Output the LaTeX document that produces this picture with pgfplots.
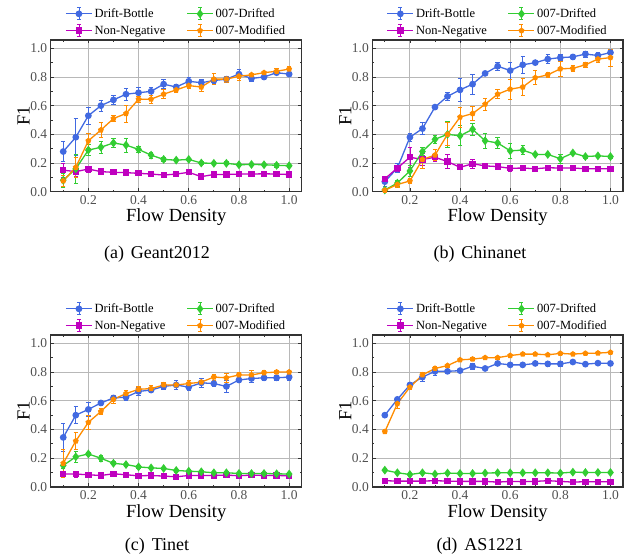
\documentclass[border=0pt]{standalone}
\usepackage{fontspec}
\setmainfont{Liberation Serif}
\usepackage{pgfplots}
\pgfplotsset{compat=1.18}
\definecolor{cblue}{HTML}{4169E1}
\definecolor{cgreen}{HTML}{32CD32}
\definecolor{cmag}{HTML}{BF00BF}
\definecolor{corange}{HTML}{FF8C00}
\definecolor{tickgray}{HTML}{505050}
\pgfplotsset{
  panel/.style={
    scale only axis, width=251pt, height=151.7pt, anchor=south west,
    xmin=0.05, xmax=1.05, ymin=0, ymax=1.058,
    xtick={0.2,0.4,0.6,0.8,1.0}, ytick={0,0.2,0.4,0.6,0.8,1.0},
    minor xtick={0.1,0.3,0.5,0.7,0.9}, minor ytick={0.1,0.3,0.5,0.7,0.9},
    xticklabels={0.2,0.4,0.6,0.8,1.0}, yticklabels={0.0,0.2,0.4,0.6,0.8,1.0},
    tick align=inside, major tick length=3.5pt, minor tick length=2pt,
    every tick/.style={black!80, line width=0.8pt},
    xmajorgrids, ymajorgrids, major grid style={color=black!28, line width=0.9pt},
    axis line style={black!80, line width=1.1pt},
    tick label style={font=\fontsize{13.5}{15}\selectfont, text=tickgray},
    /pgf/number format/assume math mode=true,
    xlabel={Flow Density}, ylabel={F1},
    label style={font=\fontsize{18.5}{20}\selectfont},
    xlabel style={at={(axis description cs:0.5,-0.17)}, anchor=center},
    ylabel style={at={(axis description cs:-0.108,0.5)}, anchor=center},
    legend style={draw=none, fill=none, at={(0.5,1)}, anchor=south, yshift=0pt,
      font=\fontsize{12.5}{14}\selectfont, row sep=2.5pt,
      /tikz/every even column/.append style={column sep=19pt}},
    legend columns=2, transpose legend, legend cell align=left,
    legend image code/.code={
      \draw[mark=none, solid, line width=0.8pt] (13pt,-6pt) -- (13pt,6pt) (11pt,-6pt) -- (15pt,-6pt) (11pt,6pt) -- (15pt,6pt);
      \draw[mark repeat=2,mark phase=2] plot coordinates {(0pt,0pt) (13pt,0pt) (26pt,0pt)};
    },
    every axis plot/.append style={line width=1.3pt},
    error bars/y dir=both, error bars/y explicit,
    error bars/error bar style={line width=0.8pt},
    error bars/error mark options={rotate=90, mark size=2.2pt, line width=0.8pt},
  },
  sblue/.style={color=cblue, mark=*, mark size=2.7pt, mark options={solid}},
  smag/.style={color=cmag, mark=square*, mark size=2.5pt, mark options={solid}},
  sgreen/.style={color=cgreen, mark=diamond*, mark size=3.4pt, mark options={solid}},
  sorange/.style={color=corange, mark=pentagon*, mark size=2.3pt, mark options={solid}},
}
\begin{document}
\begin{tikzpicture}
\useasboundingbox (0pt,0pt) rectangle (638pt,556pt);
% ---------------- (a) Geant2012
\begin{axis}[panel, at={(50.7pt,364.3pt)}]
\addplot[sblue] coordinates {(0.10,0.28) +- (0,0.07) (0.15,0.38) +- (0,0.13) (0.20,0.53) +- (0,0.06) (0.25,0.60) +- (0,0.04) (0.30,0.64) +- (0,0.03) (0.35,0.68) +- (0,0.04) (0.40,0.69) +- (0,0.04) (0.45,0.70) +- (0,0.03) (0.50,0.75) +- (0,0.03) (0.55,0.73) +- (0,0.02) (0.60,0.77) +- (0,0.03) (0.65,0.76) +- (0,0.02) (0.70,0.775) +- (0,0.02) (0.75,0.785) +- (0,0.02) (0.80,0.82) +- (0,0.03) (0.85,0.79) +- (0,0.02) (0.90,0.80) +- (0,0.015) (0.95,0.83) +- (0,0.015) (1.00,0.82) +- (0,0.01)};
\addlegendentry{Drift-Bottle}
\addplot[smag] coordinates {(0.10,0.15) +- (0,0.05) (0.15,0.14) +- (0,0.03) (0.20,0.158) +- (0,0.02) (0.25,0.14) +- (0,0.02) (0.30,0.135) +- (0,0.01) (0.35,0.133) +- (0,0.02) (0.40,0.128) +- (0,0.01) (0.45,0.123) +- (0,0.01) (0.50,0.116) +- (0,0.01) (0.55,0.123) +- (0,0.01) (0.60,0.135) +- (0,0.01) (0.65,0.105) +- (0,0.01) (0.70,0.12) +- (0,0.01) (0.75,0.12) +- (0,0.01) (0.80,0.123) +- (0,0.01) (0.85,0.123) +- (0,0.01) (0.90,0.125) +- (0,0.01) (0.95,0.123) +- (0,0.01) (1.00,0.12) +- (0,0.01)};
\addlegendentry{Non-Negative}
\addplot[sgreen] coordinates {(0.10,0.08) +- (0,0.05) (0.15,0.16) +- (0,0.10) (0.20,0.29) +- (0,0.04) (0.25,0.31) +- (0,0.04) (0.30,0.34) +- (0,0.03) (0.35,0.325) +- (0,0.05) (0.40,0.295) +- (0,0.02) (0.45,0.255) +- (0,0.02) (0.50,0.225) +- (0,0.015) (0.55,0.22) +- (0,0.01) (0.60,0.225) +- (0,0.01) (0.65,0.20) +- (0,0.01) (0.70,0.198) +- (0,0.01) (0.75,0.198) +- (0,0.01) (0.80,0.188) +- (0,0.01) (0.85,0.19) +- (0,0.01) (0.90,0.188) +- (0,0.01) (0.95,0.184) +- (0,0.015) (1.00,0.181) +- (0,0.01)};
\addlegendentry{007-Drifted}
\addplot[sorange] coordinates {(0.10,0.075) +- (0,0.04) (0.15,0.17) +- (0,0.07) (0.20,0.355) +- (0,0.05) (0.25,0.43) +- (0,0.05) (0.30,0.51) +- (0,0.02) (0.35,0.545) +- (0,0.06) (0.40,0.645) +- (0,0.02) (0.45,0.645) +- (0,0.03) (0.50,0.68) +- (0,0.03) (0.55,0.71) +- (0,0.02) (0.60,0.74) +- (0,0.02) (0.65,0.73) +- (0,0.03) (0.70,0.785) +- (0,0.04) (0.75,0.785) +- (0,0.02) (0.80,0.805) +- (0,0.03) (0.85,0.815) +- (0,0.01) (0.90,0.83) +- (0,0.01) (0.95,0.84) +- (0,0.02) (1.00,0.855) +- (0,0.02)};
\addlegendentry{007-Modified}
\end{axis}
% ---------------- (b) Chinanet
\begin{axis}[panel, at={(372.3pt,364.3pt)}, width=250.7pt]
\addplot[sblue] coordinates {(0.10,0.07) +- (0,0.03) (0.15,0.165) +- (0,0.03) (0.20,0.38) +- (0,0.03) (0.25,0.44) +- (0,0.04) (0.30,0.59) +- (0,0.01) (0.35,0.665) +- (0,0.03) (0.40,0.71) +- (0,0.08) (0.45,0.75) +- (0,0.07) (0.50,0.825) +- (0,0.015) (0.55,0.875) +- (0,0.03) (0.60,0.845) +- (0,0.06) (0.65,0.885) +- (0,0.06) (0.70,0.90) +- (0,0.01) (0.75,0.925) +- (0,0.03) (0.80,0.935) +- (0,0.02) (0.85,0.94) +- (0,0.02) (0.90,0.96) +- (0,0.02) (0.95,0.95) +- (0,0.02) (1.00,0.97) +- (0,0.01)};
\addlegendentry{Drift-Bottle}
\addplot[smag] coordinates {(0.10,0.09) +- (0,0.02) (0.15,0.165) +- (0,0.02) (0.20,0.24) +- (0,0.07) (0.25,0.225) +- (0,0.04) (0.30,0.24) +- (0,0.03) (0.35,0.21) +- (0,0.05) (0.40,0.17) +- (0,0.01) (0.45,0.195) +- (0,0.03) (0.50,0.18) +- (0,0.02) (0.55,0.175) +- (0,0.01) (0.60,0.163) +- (0,0.02) (0.65,0.165) +- (0,0.01) (0.70,0.16) +- (0,0.01) (0.75,0.167) +- (0,0.01) (0.80,0.165) +- (0,0.01) (0.85,0.165) +- (0,0.01) (0.90,0.16) +- (0,0.01) (0.95,0.16) +- (0,0.01) (1.00,0.16) +- (0,0.01)};
\addlegendentry{Non-Negative}
\addplot[sgreen] coordinates {(0.10,0.012) +- (0,0.01) (0.15,0.06) +- (0,0.02) (0.20,0.145) +- (0,0.04) (0.25,0.28) +- (0,0.03) (0.30,0.365) +- (0,0.03) (0.35,0.40) +- (0,0.09) (0.40,0.39) +- (0,0.07) (0.45,0.435) +- (0,0.04) (0.50,0.355) +- (0,0.05) (0.55,0.34) +- (0,0.04) (0.60,0.285) +- (0,0.05) (0.65,0.29) +- (0,0.03) (0.70,0.26) +- (0,0.01) (0.75,0.26) +- (0,0.01) (0.80,0.23) +- (0,0.03) (0.85,0.27) +- (0,0.01) (0.90,0.245) +- (0,0.01) (0.95,0.25) +- (0,0.01) (1.00,0.245) +- (0,0.01)};
\addlegendentry{007-Drifted}
\addplot[sorange] coordinates {(0.10,0.01) +- (0,0.01) (0.15,0.05) +- (0,0.02) (0.20,0.075) +- (0,0.02) (0.25,0.225) +- (0,0.06) (0.30,0.255) +- (0,0.04) (0.35,0.40) +- (0,0.08) (0.40,0.52) +- (0,0.07) (0.45,0.545) +- (0,0.05) (0.50,0.61) +- (0,0.04) (0.55,0.68) +- (0,0.03) (0.60,0.715) +- (0,0.07) (0.65,0.73) +- (0,0.06) (0.70,0.795) +- (0,0.05) (0.75,0.815) +- (0,0.02) (0.80,0.857) +- (0,0.05) (0.85,0.86) +- (0,0.02) (0.90,0.885) +- (0,0.02) (0.95,0.925) +- (0,0.02) (1.00,0.935) +- (0,0.06)};
\addlegendentry{007-Modified}
\end{axis}
% ---------------- (c) Tinet
\begin{axis}[panel, at={(50.7pt,69pt)}, height=152pt]
\addplot[sblue] coordinates {(0.10,0.345) +- (0,0.1) (0.15,0.50) +- (0,0.06) (0.20,0.54) +- (0,0.05) (0.25,0.585) +- (0,0.02) (0.30,0.62) +- (0,0.02) (0.35,0.625) +- (0,0.02) (0.40,0.665) +- (0,0.03) (0.45,0.675) +- (0,0.02) (0.50,0.70) +- (0,0.02) (0.55,0.71) +- (0,0.03) (0.60,0.695) +- (0,0.02) (0.65,0.725) +- (0,0.03) (0.70,0.72) +- (0,0.02) (0.75,0.70) +- (0,0.04) (0.80,0.745) +- (0,0.02) (0.85,0.755) +- (0,0.03) (0.90,0.76) +- (0,0.02) (0.95,0.76) +- (0,0.02) (1.00,0.765) +- (0,0.02)};
\addlegendentry{Drift-Bottle}
\addplot[smag] coordinates {(0.10,0.09) +- (0,0.015) (0.15,0.09) +- (0,0.02) (0.20,0.085) +- (0,0.01) (0.25,0.08) +- (0,0.01) (0.30,0.092) +- (0,0.01) (0.35,0.085) +- (0,0.01) (0.40,0.078) +- (0,0.015) (0.45,0.08) +- (0,0.01) (0.50,0.076) +- (0,0.01) (0.55,0.071) +- (0,0.01) (0.60,0.08) +- (0,0.01) (0.65,0.08) +- (0,0.01) (0.70,0.08) +- (0,0.01) (0.75,0.083) +- (0,0.01) (0.80,0.078) +- (0,0.01) (0.85,0.083) +- (0,0.01) (0.90,0.08) +- (0,0.01) (0.95,0.08) +- (0,0.01) (1.00,0.078) +- (0,0.01)};
\addlegendentry{Non-Negative}
\addplot[sgreen] coordinates {(0.10,0.15) +- (0,0.02) (0.15,0.21) +- (0,0.04) (0.20,0.23) +- (0,0.01) (0.25,0.20) +- (0,0.02) (0.30,0.165) +- (0,0.01) (0.35,0.156) +- (0,0.01) (0.40,0.14) +- (0,0.01) (0.45,0.133) +- (0,0.01) (0.50,0.129) +- (0,0.01) (0.55,0.115) +- (0,0.01) (0.60,0.11) +- (0,0.01) (0.65,0.106) +- (0,0.01) (0.70,0.099) +- (0,0.01) (0.75,0.099) +- (0,0.01) (0.80,0.094) +- (0,0.01) (0.85,0.094) +- (0,0.01) (0.90,0.094) +- (0,0.01) (0.95,0.092) +- (0,0.01) (1.00,0.09) +- (0,0.01)};
\addlegendentry{007-Drifted}
\addplot[sorange] coordinates {(0.10,0.165) +- (0,0.1) (0.15,0.32) +- (0,0.06) (0.20,0.45) +- (0,0.05) (0.25,0.525) +- (0,0.02) (0.30,0.61) +- (0,0.03) (0.35,0.65) +- (0,0.02) (0.40,0.68) +- (0,0.02) (0.45,0.685) +- (0,0.02) (0.50,0.71) +- (0,0.02) (0.55,0.71) +- (0,0.01) (0.60,0.72) +- (0,0.02) (0.65,0.73) +- (0,0.01) (0.70,0.765) +- (0,0.02) (0.75,0.76) +- (0,0.03) (0.80,0.78) +- (0,0.02) (0.85,0.78) +- (0,0.03) (0.90,0.795) +- (0,0.02) (0.95,0.80) +- (0,0.01) (1.00,0.80) +- (0,0.01)};
\addlegendentry{007-Modified}
\end{axis}
% ---------------- (d) AS1221
\begin{axis}[panel, at={(372.3pt,69pt)}, width=250.7pt, height=152pt]
\addplot[sblue] coordinates {(0.10,0.50) +- (0,0.015) (0.15,0.61) +- (0,0.015) (0.20,0.71) +- (0,0.015) (0.25,0.765) +- (0,0.03) (0.30,0.805) +- (0,0.03) (0.35,0.805) +- (0,0.01) (0.40,0.81) +- (0,0.01) (0.45,0.84) +- (0,0.02) (0.50,0.825) +- (0,0.01) (0.55,0.86) +- (0,0.01) (0.60,0.85) +- (0,0.01) (0.65,0.85) +- (0,0.01) (0.70,0.86) +- (0,0.01) (0.75,0.857) +- (0,0.02) (0.80,0.857) +- (0,0.02) (0.85,0.87) +- (0,0.01) (0.90,0.855) +- (0,0.01) (0.95,0.862) +- (0,0.01) (1.00,0.86) +- (0,0.01)};
\addlegendentry{Drift-Bottle}
\addplot[smag] coordinates {(0.10,0.044) +- (0,0.005) (0.15,0.041) +- (0,0.005) (0.20,0.041) +- (0,0.005) (0.25,0.041) +- (0,0.005) (0.30,0.044) +- (0,0.005) (0.35,0.041) +- (0,0.005) (0.40,0.039) +- (0,0.005) (0.45,0.039) +- (0,0.005) (0.50,0.039) +- (0,0.005) (0.55,0.034) +- (0,0.005) (0.60,0.039) +- (0,0.005) (0.65,0.037) +- (0,0.005) (0.70,0.039) +- (0,0.005) (0.75,0.044) +- (0,0.005) (0.80,0.039) +- (0,0.005) (0.85,0.034) +- (0,0.005) (0.90,0.037) +- (0,0.005) (0.95,0.037) +- (0,0.005) (1.00,0.037) +- (0,0.005)};
\addlegendentry{Non-Negative}
\addplot[sgreen] coordinates {(0.10,0.117) +- (0,0.01) (0.15,0.099) +- (0,0.005) (0.20,0.087) +- (0,0.005) (0.25,0.099) +- (0,0.005) (0.30,0.09) +- (0,0.005) (0.35,0.097) +- (0,0.005) (0.40,0.094) +- (0,0.005) (0.45,0.094) +- (0,0.005) (0.50,0.097) +- (0,0.005) (0.55,0.099) +- (0,0.005) (0.60,0.099) +- (0,0.005) (0.65,0.099) +- (0,0.005) (0.70,0.099) +- (0,0.005) (0.75,0.099) +- (0,0.005) (0.80,0.097) +- (0,0.005) (0.85,0.103) +- (0,0.005) (0.90,0.101) +- (0,0.005) (0.95,0.101) +- (0,0.005) (1.00,0.101) +- (0,0.005)};
\addlegendentry{007-Drifted}
\addplot[sorange] coordinates {(0.10,0.385) +- (0,0.015) (0.15,0.58) +- (0,0.03) (0.20,0.695) +- (0,0.015) (0.25,0.78) +- (0,0.015) (0.30,0.825) +- (0,0.015) (0.35,0.845) +- (0,0.01) (0.40,0.885) +- (0,0.01) (0.45,0.89) +- (0,0.01) (0.50,0.90) +- (0,0.01) (0.55,0.90) +- (0,0.01) (0.60,0.915) +- (0,0.01) (0.65,0.925) +- (0,0.01) (0.70,0.925) +- (0,0.01) (0.75,0.92) +- (0,0.01) (0.80,0.93) +- (0,0.01) (0.85,0.925) +- (0,0.01) (0.90,0.93) +- (0,0.01) (0.95,0.932) +- (0,0.01) (1.00,0.937) +- (0,0.01)};
\addlegendentry{007-Modified}
\end{axis}
% ---------------- captions
\node[font=\fontsize{18}{20}\selectfont, anchor=center] at (157pt,302pt) {(a)\hspace{7pt}Geant2012};
\node[font=\fontsize{18}{20}\selectfont, anchor=center] at (480pt,302pt) {(b)\hspace{7pt}Chinanet};
\node[font=\fontsize{18}{20}\selectfont, anchor=center] at (157pt,10pt) {(c)\hspace{7pt}Tinet};
\node[font=\fontsize{18}{20}\selectfont, anchor=center] at (480pt,10pt) {(d)\hspace{7pt}AS1221};
\end{tikzpicture}
\end{document}
